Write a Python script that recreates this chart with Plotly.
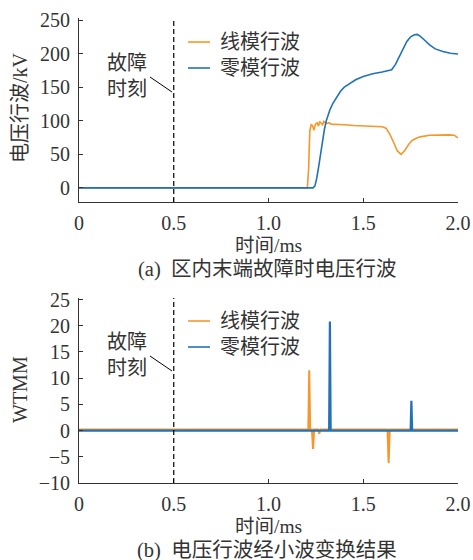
import plotly.graph_objects as go

# ---------------- data ----------------
# (a) voltage travelling waves, kV
t_line_a = [0, 1.205, 1.212, 1.218, 1.225, 1.232, 1.24, 1.248, 1.256, 1.264, 1.27, 1.278, 1.285,
            1.292, 1.3, 1.31, 1.32, 1.33, 1.35, 1.4, 1.45, 1.5, 1.55, 1.6, 1.62, 1.64, 1.66,
            1.68, 1.70, 1.72, 1.74, 1.76, 1.78, 1.8, 1.85, 1.9, 1.95, 1.98, 2.0]
v_line_a = [0, 0, 30, 85, 94, 93, 86, 95, 97, 92, 99, 96, 94,
            99, 97, 96, 97, 95, 95, 94, 93, 92.5, 92, 91, 89, 80, 68,
            55, 50, 56, 65, 71, 74, 76, 78.5, 79, 79, 78.5, 74.5]
t_zero_a = [0, 1.235, 1.245, 1.255, 1.265, 1.275, 1.285, 1.295, 1.305, 1.315, 1.325, 1.34, 1.36, 1.38,
            1.4, 1.43, 1.46, 1.5, 1.55, 1.6, 1.63, 1.65, 1.67, 1.69, 1.71, 1.73, 1.75, 1.77,
            1.785, 1.8, 1.82, 1.85, 1.88, 1.92, 1.96, 2.0]
v_zero_a = [0, 0, 3, 15, 32, 52, 71, 87, 100, 109, 117, 126, 136, 144,
            150, 156, 161, 166, 170, 172.5, 174, 176, 184, 195, 207, 218, 225, 228,
            228.5, 226, 221, 213, 207, 203, 200.5, 199.5]

# (b) WTMM of wavelet transform
t_line_b = [0, 1.21, 1.215, 1.22, 1.229, 1.235, 1.241, 1.262, 1.268, 1.274, 1.628, 1.634, 1.64, 2.0]
v_line_b = [0.2, 0.2, 11.5, 0.2, 0.2, -3.5, 0.2, 0.2, -0.6, 0.2, 0.2, -6.2, 0.2, 0.2]
t_zero_b = [0, 1.32, 1.324, 1.328, 1.75, 1.754, 1.758, 2.0]
v_zero_b = [0, 0, 20.8, 0, 0, 5.7, 0, 0]

series_names = ["线模行波", "零模行波"]
x_tickvals = [0, 0.5, 1.0, 1.5, 2.0]
x_ticktext = ["0", "0.5", "1.0", "1.5", "2.0"]
ya_tickvals = [0, 50, 100, 150, 200, 250]
yb_tickvals = [-10, -5, 0, 5, 10, 15, 20, 25]
yb_ticktext = ["\u221210", "\u22125", "0", "5", "10", "15", "20", "25"]
fault_time = 0.5

ORANGE = "#F5972A"
BLUE = "#2371B6"
TXT = "#333333"
FONT = "Liberation Serif, Noto Sans CJK SC, serif"

fig = go.Figure()
fig.add_trace(go.Scatter(x=t_line_a, y=v_line_a, mode="lines", line=dict(color=ORANGE, width=1.6),
                         name=series_names[0], xaxis="x", yaxis="y", showlegend=False))
fig.add_trace(go.Scatter(x=t_zero_a, y=v_zero_a, mode="lines", line=dict(color=BLUE, width=1.6),
                         name=series_names[1], xaxis="x", yaxis="y", showlegend=False))
fig.add_trace(go.Scatter(x=t_line_b, y=v_line_b, mode="lines", line=dict(color=ORANGE, width=2),
                         name=series_names[0], xaxis="x2", yaxis="y2", showlegend=False))
fig.add_trace(go.Scatter(x=t_zero_b, y=v_zero_b, mode="lines", line=dict(color=BLUE, width=2.2),
                         name=series_names[1], xaxis="x2", yaxis="y2", showlegend=False))

W, H = 473, 560
ML, MR = 79, 15
PW = W - ML - MR


def py(px):
    return 1 - px / H


def pxx(px):
    return (px - ML) / PW


axis_common = dict(showline=True, linecolor=TXT, linewidth=1, ticks="inside", ticklen=4,
                   tickcolor=TXT, showgrid=False, zeroline=False, automargin=False,
                   tickfont=dict(family=FONT, size=20, color=TXT))

fig.update_layout(
    width=W, height=H,
    margin=dict(l=ML, r=MR, t=0, b=0),
    paper_bgcolor="white", plot_bgcolor="white",
    font=dict(family=FONT, color=TXT),
    xaxis=dict(domain=[0, 1], range=[0, 2.0], tickvals=x_tickvals, ticktext=x_ticktext,
               anchor="y", ticklabelstandoff=3, **axis_common),
    yaxis=dict(domain=[py(202), py(18)], range=[-21, 253], tickvals=ya_tickvals,
               anchor="x", ticklabelstandoff=4, **axis_common),
    xaxis2=dict(domain=[0, 1], range=[0, 2.0], tickvals=x_tickvals, ticktext=x_ticktext,
                anchor="y2", ticklabelstandoff=3, **axis_common),
    yaxis2=dict(domain=[py(483), py(298)], range=[-10, 25.3], tickvals=yb_tickvals,
                ticktext=yb_ticktext, anchor="x2", ticklabelstandoff=4, **axis_common),
)

shapes = []
for xr, yr in [("x", "y domain"), ("x2", "y2 domain")]:
    shapes.append(dict(type="line", xref=xr, yref=yr, x0=fault_time, x1=fault_time, y0=0, y1=1,
                       line=dict(color="black", width=1.2, dash="5px,3px")))

annotations = []


def text(x, y, s, size=19, xanchor="center", **kw):
    annotations.append(dict(xref="paper", yref="paper", x=pxx(x), y=py(y), text=s, showarrow=False,
                            xanchor=xanchor, yanchor="middle",
                            font=dict(family=FONT, size=size, color=TXT), **kw))


for off in [0, 279]:
    # fault-time callout
    text(127, 63 + off, "故障", size=20)
    text(127, 89 + off, "时刻", size=20)
    shapes.append(dict(type="line", xref="paper", yref="paper",
                       x0=pxx(150), y0=py(77 + off), x1=pxx(172), y1=py(92 + off),
                       line=dict(color="black", width=1)))
    # legend
    for i, (name, col) in enumerate(zip(series_names, [ORANGE, BLUE])):
        yy = 42 + 26 * i + off
        shapes.append(dict(type="line", xref="paper", yref="paper", x0=pxx(188), x1=pxx(210),
                           y0=py(yy), y1=py(yy), line=dict(color=col, width=1.6)))
        text(218, yy, name, size=20, xanchor="left")

text(268, 245, "时间/ms", size=19.5)
text(268, 526, "时间/ms", size=19.5)
text(267, 269, "(a)  区内末端故障时电压行波", size=20.5)
text(267, 550, "(b)  电压行波经小波变换结果", size=20.5)
text(20, 108, "电压行波/kV", size=20, textangle=-90)
text(20, 390, "WTMM", size=20, textangle=-90)

fig.update_layout(shapes=shapes, annotations=annotations)
fig.write_html("out.html", post_script="document.body.style.margin='0';",
               config={"displayModeBar": False})
